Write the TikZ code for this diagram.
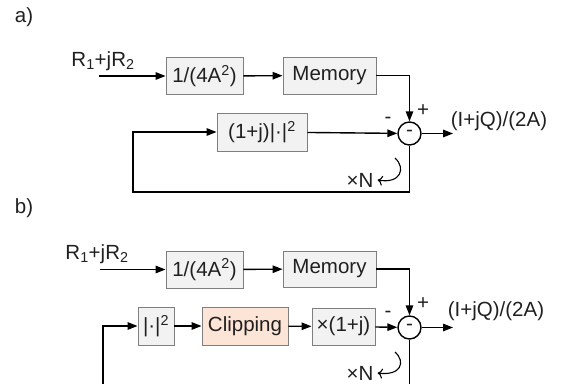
\documentclass[tikz,border=0pt]{standalone}
\usepackage{fontspec}
\setmainfont{Liberation Sans}
\usetikzlibrary{arrows.meta}
\definecolor{boxfill}{HTML}{F2F2F2}
\definecolor{boxline}{HTML}{7F7F7F}
\definecolor{clipfill}{HTML}{FCE4D6}
\definecolor{txt}{HTML}{202020}
\begin{document}
\begin{tikzpicture}[x=1pt,y=-1pt,
  every node/.style={font=\fontsize{20.5}{24}\selectfont, text=txt},
  blk/.style={draw=boxline, line width=0.9pt, fill=boxfill, inner sep=0pt, minimum height=37pt},
  sumc/.style={draw=black, line width=1.4pt, circle, minimum size=23pt, inner sep=0pt},
  plain/.style={inner sep=0pt},
  sig/.style={line width=1.4pt, -{Triangle[length=10pt,width=7.5pt]}},
  wire/.style={line width=1.4pt},
  rep/.style={line width=1.1pt, -{To[length=5pt,width=10pt]}}]
\useasboundingbox (0,0) rectangle (569,383);
\clip (0,0) rectangle (569,383);
% ---------- a) ----------
\node[plain] (la) at (24,17) {a)};
\node[plain] (ina) at (103,61) {R\textsubscript{1}+jR\textsubscript{2}};
\coordinate (ia) at (99,76);
\node[blk, minimum width=77pt] (ga) at (204.5,76) {1/(4A\textsuperscript{2})};
\node[blk, minimum width=93pt] (ma) at (329.5,75.5) {Memory};
\node[blk, minimum width=90pt, minimum height=38pt] (fa) at (262,132) {(1+j)|·|\textsuperscript{2}};
\node[sumc] (sa) at (409.5,133.5) {\raisebox{1pt}{-}};
\coordinate (oa) at (453,133.5);
\node[plain] (outa) at (499,121) {(I+jQ)/(2A)};
\node[plain] (pa) at (423,111) {+};
\node[plain] (na) at (388,120) {-};
\node[plain] (xa) at (360,180) {×N};
\coordinate (ba) at (409.5,192);
\coordinate (ca) at (133,192);
\draw[sig] (ia) -- (ga);
\draw[sig] (ga) -- (ma);
\draw[sig] (ma.east) -| (sa.north);
\draw[sig] (fa) -- (sa);
\draw[sig] (sa) -- (oa);
\draw[wire] (sa.south) -- (ba) -- (ca) |- ([xshift=-20pt]fa.west);
\draw[sig] ([xshift=-21pt]fa.west) -- (fa.west);
\draw[rep] (395,158) .. controls (406,168) and (401,184) .. ([xshift=4pt]xa.east);
% ---------- b) ----------
\node[plain] (lb) at (24,208) {b)};
\node[plain] (inb) at (97,254) {R\textsubscript{1}+jR\textsubscript{2}};
\coordinate (ib) at (100,269.5);
\node[blk, minimum width=77pt] (gb) at (204.5,269.5) {1/(4A\textsuperscript{2})};
\node[blk, minimum width=93pt, minimum height=36pt] (mb) at (329.5,269) {Memory};
\node[blk, minimum width=36pt, minimum height=38pt] (ab) at (156,326) {|·|\textsuperscript{2}};
\node[blk, fill=clipfill, minimum width=86pt, minimum height=38pt] (cb) at (245,326) {Clipping};
\node[blk, minimum width=63pt] (xb) at (343.5,326.5) {×(1+j)};
\node[sumc] (sb) at (409.5,327.5) {\raisebox{1pt}{-}};
\coordinate (ob) at (453,327.5);
\node[plain] (outb) at (496,311) {(I+jQ)/(2A)};
\node[plain] (pb) at (423,304) {+};
\node[plain] (nb) at (388,314) {-};
\node[plain] (xnb) at (360,373) {×N};
\coordinate (bb) at (409.5,390);
\coordinate (cb0) at (103,390);
\draw[sig] (ib) -- (gb);
\draw[sig] (gb) -- (mb);
\draw[sig] (mb.east) -| (sb.north);
\draw[sig] (ab) -- (cb);
\draw[sig] (cb) -- (xb);
\draw[sig] (xb) -- (sb);
\draw[sig] (sb) -- (ob);
\draw[wire] (sb.south) -- (bb);
\draw[wire] (cb0) |- ([xshift=-20pt]ab.west);
\draw[sig] ([xshift=-21pt]ab.west) -- (ab.west);
\draw[rep] (395,352) .. controls (406,362) and (401,376) .. ([xshift=4pt]xnb.east);
\end{tikzpicture}
\end{document}
